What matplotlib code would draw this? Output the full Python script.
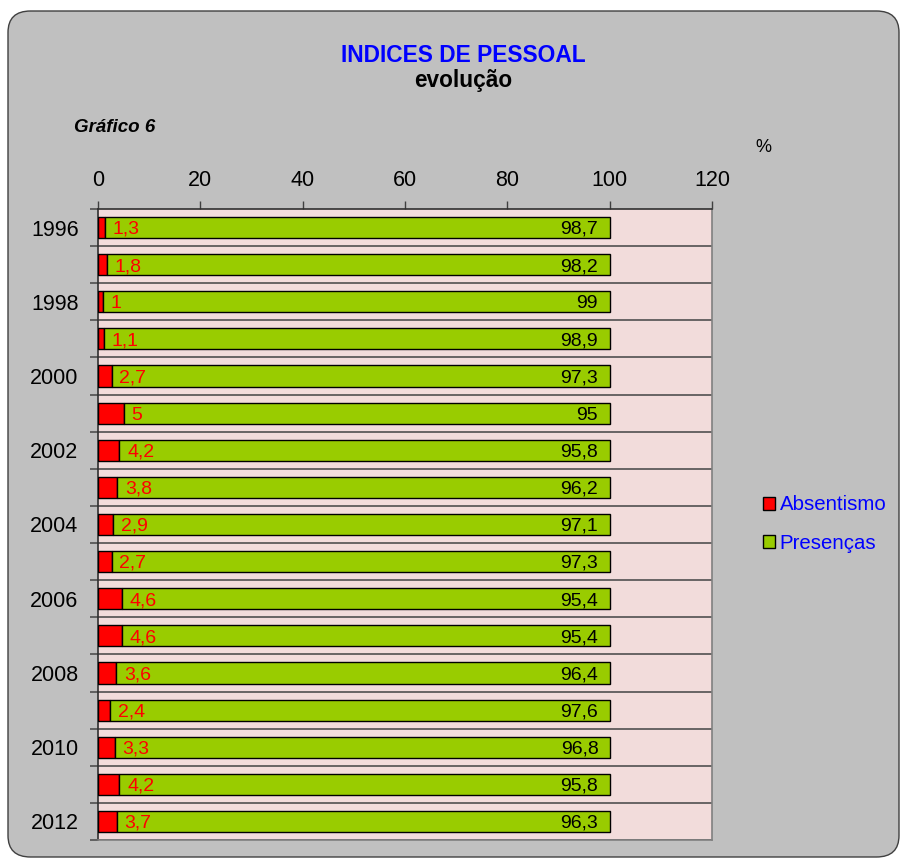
import matplotlib
matplotlib.use("Agg")
import matplotlib.pyplot as plt
from matplotlib.patches import FancyBboxPatch, Patch
import numpy as np

plt.rcParams['font.family'] = ['Liberation Sans', 'DejaVu Sans']

years = [1996, 1997, 1998, 1999, 2000, 2001, 2002, 2003, 2004, 2005, 2006,
         2007, 2008, 2009, 2010, 2011, 2012]
absentismo = [1.3, 1.8, 1.0, 1.1, 2.7, 5.0, 4.2, 3.8, 2.9, 2.7, 4.6, 4.6,
              3.6, 2.4, 3.3, 4.2, 3.7]
presencas = [98.7, 98.2, 99.0, 98.9, 97.3, 95.0, 95.8, 96.2, 97.1, 97.3,
             95.4, 95.4, 96.4, 97.6, 96.8, 95.8, 96.3]
abs_labels = ["1,3", "1,8", "1", "1,1", "2,7", "5", "4,2", "3,8", "2,9", "2,7",
              "4,6", "4,6", "3,6", "2,4", "3,3", "4,2", "3,7"]
pre_labels = ["98,7", "98,2", "99", "98,9", "97,3", "95", "95,8", "96,2", "97,1",
              "97,3", "95,4", "95,4", "96,4", "97,6", "96,8", "95,8", "96,3"]
xticks = [0, 20, 40, 60, 80, 100, 120]

W, H = 901, 860
fig = plt.figure(figsize=(W / 100, H / 100), dpi=100)
fig.patch.set_facecolor('white')

# rounded grey background
bg = FancyBboxPatch((8 / W, 3 / H), (W - 10) / W, (H - 14) / H,
                    boxstyle="round,pad=0,rounding_size=0.025",
                    transform=fig.transFigure, facecolor='#C0C0C0',
                    edgecolor='#404040', linewidth=1.0, zorder=-10)
fig.add_artist(bg)

ax = fig.add_axes([98 / W, 1 - 840 / H, (712 - 98) / W, (840 - 209) / H])
ax.set_zorder(1)
ax.set_facecolor('#F2DCDB')

n = len(years)
y = np.arange(n)
h = 0.57
ax.barh(y, absentismo, height=h, color='#FF0000', edgecolor='black', linewidth=1.0, zorder=3)
ax.barh(y, presencas, left=absentismo, height=h, color='#99CC00', edgecolor='black',
        linewidth=1.0, zorder=3)

for i in range(n):
    ax.text(absentismo[i] + 1.5, y[i] + 0.05, abs_labels[i], color='#FF0000',
            fontsize=14, ha='left', va='center', zorder=4)
    ax.text(absentismo[i] + presencas[i] - 2.3, y[i] + 0.05, pre_labels[i], color='black',
            fontsize=14, ha='right', va='center', zorder=4)

ax.set_xlim(0, 120)
ax.set_ylim(n - 0.5, -0.5)

# row separators
for b in np.arange(-0.5, n, 1.0)[1:]:
    ax.axhline(b, color='#505050', linewidth=1.2, zorder=2)

ax.xaxis.tick_top()
ax.set_xticks(xticks)
ax.set_xticklabels([str(v) for v in xticks], fontsize=15.5)
ax.tick_params(axis='x', direction='out', length=6, width=1, color='#404040', pad=7)

ax.set_yticks(np.arange(-0.5, n, 1.0))
ax.set_yticklabels([])
ax.tick_params(axis='y', which='major', direction='out', length=6, width=1.2, color='#505050')
ax.set_yticks(y[::2], minor=True)
ax.set_yticklabels([str(v) for v in years[::2]], minor=True, fontsize=15.5)
ax.tick_params(axis='y', which='minor', length=0, pad=14)

for s in ['left', 'right', 'top', 'bottom']:
    ax.spines[s].set_color('#808080')
    ax.spines[s].set_linewidth(1.2)
ax.spines['top'].set_color('#303030')
ax.spines['left'].set_color('#303030')

fig.text(463 / W, 1 - 55 / H, "INDICES DE PESSOAL", color='#0000FF', fontsize=16.4,
         fontweight='bold', ha='center', va='center')
fig.text(463 / W, 1 - 80 / H, "evolução", color='black', fontsize=16.3,
         fontweight='bold', ha='center', va='center')
fig.text(74 / W, 1 - 128 / H, "Gráfico 6", color='black', fontsize=13.5,
         fontweight='bold', fontstyle='italic', ha='left', va='center')
fig.text(763 / W, 1 - 147 / H, "%", color='black', fontsize=13, ha='center', va='center')

handles = [Patch(facecolor='#FF0000', edgecolor='black', label='Absentismo'),
           Patch(facecolor='#99CC00', edgecolor='black', label='Presenças')]
leg = fig.legend(handles=handles, loc='center left', bbox_to_anchor=(753 / W, 1 - 524 / H),
                 frameon=False, fontsize=14.7, handlelength=0.6, handleheight=0.6,
                 handletextpad=0.2, labelspacing=0.95, borderpad=0)
for t in leg.get_texts():
    t.set_color('#0000FF')

fig.savefig('out.png', dpi=100, facecolor='white')
